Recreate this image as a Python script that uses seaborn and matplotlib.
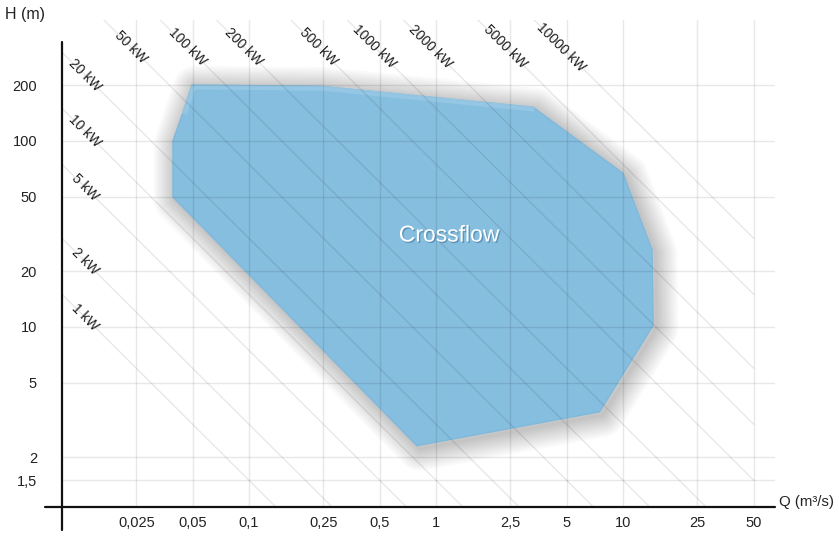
import numpy as np
import pandas as pd
import matplotlib
matplotlib.use("Agg")
import matplotlib.pyplot as plt
import matplotlib.patheffects as pe
import seaborn as sns

# ---------------- data ----------------
q_ticks = [0.025, 0.05, 0.1, 0.25, 0.5, 1, 2.5, 5, 10, 25, 50]
q_labels = ["0,025", "0,05", "0,1", "0,25", "0,5", "1", "2,5", "5", "10", "25", "50"]
h_ticks = [1.5, 2, 5, 10, 20, 50, 100, 200]
h_labels = ["1,5", "2", "5", "10", "20", "50", "100", "200"]

power_left = [1, 2, 5, 10, 20]                                   # kW, labelled at left
power_top = [50, 100, 200, 500, 1000, 2000, 5000, 10000]         # kW, labelled at top
k_factor = 9.81 * 0.68                                           # P = k * Q * H

crossflow_q = [0.0496, 0.24, 3.30, 10.0, 14.3, 14.5, 7.5, 0.79, 0.0392, 0.0392, 0.0444]
crossflow_h = [200, 197, 152, 67, 26, 10.2, 3.5, 2.3, 50, 100, 143]

# ---------------- layout helpers ----------------
W, H = 839, 543
def px2q(x):
    return 10 ** ((x - 436) / 187.0)
def px2h(y):
    return 10 ** (1 + (327 - y) / 186.0)

sns.set_theme(style="white")
plt.rcParams["font.family"] = ["Liberation Sans", "DejaVu Sans"]

fig = plt.figure(figsize=(W / 100, H / 100), dpi=100)
left, right, top, bottom = 62, 775, 20, 507
ax = fig.add_axes([left / W, (H - bottom) / H, (right - left) / W, (bottom - top) / H])
ax.set_xscale("log")
ax.set_yscale("log")
ax.set_xlim(px2q(left), px2q(right))
ax.set_ylim(px2h(bottom), px2h(top))

for s in ax.spines.values():
    s.set_visible(False)

ax.set_xticks(q_ticks, q_labels)
ax.set_yticks(h_ticks, h_labels)
ax.minorticks_off()
ax.tick_params(axis="x", length=0, pad=6.5, labelsize=10.5, labelcolor="#222222")
ax.tick_params(axis="y", length=12, width=1, direction="out", color="#e6e6e6",
               pad=6, labelsize=10.5, labelcolor="#222222")
ax.set_axisbelow("line")
ax.grid(True, color="black", alpha=0.09, linewidth=1)

# ---------------- crossflow region with soft shadow ----------------
qa = np.array(crossflow_q)
ha = np.array(crossflow_h)
sq = qa * 10 ** (3 / 187.0)
sh = ha * 10 ** (-3 / 186.0)
for lw in np.linspace(32, 2, 12):
    ax.fill(sq, sh, facecolor="none", edgecolor=(0, 0, 0, 0.018),
            linewidth=lw, joinstyle="round", zorder=0.6)
ax.fill(qa, ha, facecolor="#86bee0", edgecolor="#80b9db", linewidth=1, zorder=1)
# lighter band along the top edge
top_idx = [10, 0, 1, 2]
ax.plot(qa[top_idx] * 10 ** (1.5 / 187.0), ha[top_idx] * 10 ** (-2 / 186.0), color="#9ccbe7",
        linewidth=3.5, alpha=0.7, solid_capstyle="butt", zorder=1.1)

ax.text(px2q(449), px2h(235), "Crossflow", color="white", fontsize=16.5,
        ha="center", va="center", zorder=4,
        path_effects=[pe.withSimplePatchShadow(offset=(1, -1), shadow_rgbFace="#3a6f90", alpha=0.5)])

# ---------------- constant-power lines ----------------
q_line = [px2q(left), 50]
rows = []
for p in power_left + power_top:
    for q in q_line:
        rows.append({"Q": q, "H": p / (k_factor * q), "P": p})
df = pd.DataFrame(rows)
sns.lineplot(data=df, x="Q", y="H", units="P", estimator=None, sort=False,
             color="black", alpha=0.09, linewidth=1, ax=ax, zorder=1.6, legend=False)
ax.set_xlabel("")
ax.set_ylabel("")

for p in power_left:
    q = px2q(85)
    ax.text(q, p / (k_factor * q), f"{p} kW", rotation=-45, rotation_mode="anchor",
            ha="center", va="center", fontsize=10, color="#1e1e1e", zorder=5)
for p in power_top:
    h = px2h(47)
    ax.text(p / (k_factor * h), h, f"{p} kW", rotation=-45, rotation_mode="anchor",
            ha="center", va="center", fontsize=10, color="#1e1e1e", zorder=5)

# ---------------- axis lines (crossing style) ----------------
ax.plot([px2q(45), px2q(right)], [px2h(bottom)] * 2, color="#111111", lw=1.6,
        clip_on=False, zorder=6)
ax.plot([px2q(left)] * 2, [px2h(530), px2h(42)], color="#111111", lw=1.6,
        clip_on=False, zorder=6)

fig.text(5 / W, 1 - 15 / H, "H (m)", fontsize=11.5, color="#222222", ha="left", va="center")
fig.text(779 / W, 1 - 502 / H, "Q (m³/s)", fontsize=10.8, color="#222222", ha="left", va="center")

fig.savefig("out.png", dpi=100)
